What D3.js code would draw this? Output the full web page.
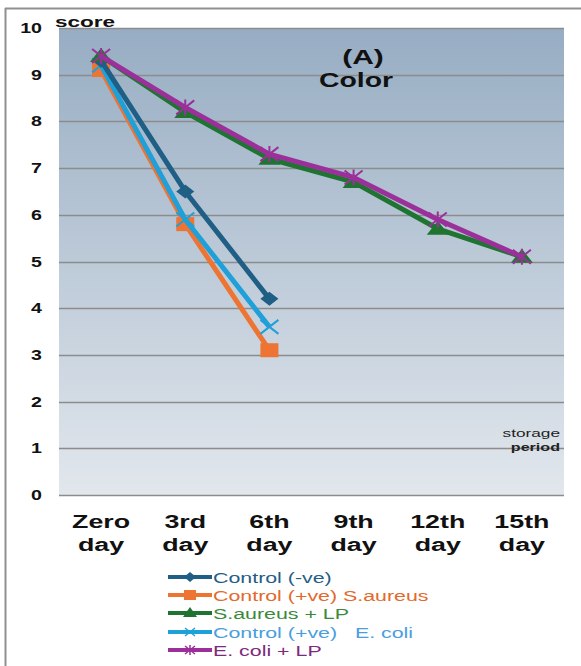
<!DOCTYPE html>
<html>
<head>
<meta charset="utf-8">
<script src="https://cdn.jsdelivr.net/npm/d3@7"></script>
<style>
html,body{margin:0;padding:0;background:#fff;}
svg{display:block;font-family:"Liberation Sans",Arial,sans-serif;}
</style>
</head>
<body>
<svg id="chart" width="581" height="666"></svg>
<script>
const categories = ["Zero day","3rd day","6th day","9th day","12th day","15th day"];
const yTicks = [0,1,2,3,4,5,6,7,8,9,10];
const seriesNames = ["Control (-ve)","Control (+ve) S.aureus","S.aureus + LP","Control (+ve)   E. coli","E. coli + LP"];
const controlNeg = [9.3, 6.5, 4.2];
const controlPosSA = [9.1, 5.8, 3.1];
const saLP = [9.4, 8.2, 7.2, 6.7, 5.7, 5.1];
const controlPosEC = [9.2, 5.9, 3.6];
const ecLP = [9.4, 8.3, 7.3, 6.8, 5.9, 5.1];

const lineColors = ["#1f5e85","#ee7433","#1e7430","#1fa0d8","#9c309a"];
const textColors = ["#1f5e85","#e26a2c","#3a8a3a","#4a9ee0","#7d2a7c"];
const markers = ["diamond","square","triangle","x","star"];
const seriesData = [controlNeg, controlPosSA, saLP, controlPosEC, ecLP];

const svg = d3.select("#chart");
const plot = {left:59, right:564, top:28, bottom:495};

// wide text helper (the original glyphs are horizontally stretched)
function wideText(parent, tx, ty, str, opts){
  return parent.append("text")
    .attr("transform",`translate(${tx},${ty}) scale(${opts.sx||1.5},1)`)
    .attr("x",0).attr("y",0)
    .attr("text-anchor",opts.anchor||"start")
    .attr("font-size",opts.size)
    .attr("font-weight",opts.weight||"normal")
    .attr("fill",opts.fill||"#111")
    .style("white-space","pre")
    .text(str);
}

// outer frame
svg.append("line").attr("x1",5).attr("x2",581).attr("y1",8.5).attr("y2",8.5).attr("stroke","#909090").attr("stroke-width",2);
svg.append("line").attr("x1",5.5).attr("x2",5.5).attr("y1",8).attr("y2",666).attr("stroke","#909090").attr("stroke-width",2);

const defs = svg.append("defs");
const grad = defs.append("linearGradient").attr("id","bg").attr("x1",0).attr("x2",0).attr("y1",0).attr("y2",1);
grad.append("stop").attr("offset","0%").attr("stop-color","#97adc3");
grad.append("stop").attr("offset","100%").attr("stop-color","#e2e7ed");

const x = d3.scaleBand().domain(categories).range([plot.left, plot.right]);
const y = d3.scaleLinear().domain([0,10]).range([plot.bottom, plot.top]);

svg.append("rect").attr("x",plot.left).attr("y",plot.top).attr("width",plot.right-plot.left).attr("height",plot.bottom-plot.top).attr("fill","url(#bg)");

// gridlines
svg.append("g").selectAll("line").data(yTicks).join("line")
  .attr("x1",plot.left).attr("x2",plot.right)
  .attr("y1",d=>Math.round(y(d))+0.5).attr("y2",d=>Math.round(y(d))+0.5)
  .attr("stroke","#8c8c8c").attr("stroke-width",1.5);

// y tick labels
const yl = svg.append("g");
yTicks.forEach(d=>wideText(yl, 42, y(d)+5, String(d), {size:14, weight:"bold", anchor:"end", sx:1.4}));

wideText(svg, 55, 27, "score", {size:15, weight:"bold", sx:1.5});

// x labels
const xl = svg.append("g");
categories.forEach(d=>{
  const parts = d.split(" ");
  const cxp = x(d)+x.bandwidth()/2;
  wideText(xl, cxp, 528, parts[0], {size:18.5, weight:"bold", anchor:"middle", sx:1.45});
  wideText(xl, cxp, 551, parts[1], {size:18.5, weight:"bold", anchor:"middle", sx:1.45});
});

// title
wideText(svg, 363, 64, "(A)", {size:20, weight:"bold", anchor:"middle", sx:1.5});
wideText(svg, 356, 87, "Color", {size:20, weight:"bold", anchor:"middle", sx:1.42});

// storage period
wideText(svg, 560, 437, "storage", {size:11.5, anchor:"end", sx:1.5, fill:"#222"});
wideText(svg, 560, 451, "period", {size:11.5, weight:"bold", anchor:"end", sx:1.4, fill:"#222"});

const cx = i => x(categories[i]) + x.bandwidth()/2;
const line = d3.line().x((d,i)=>cx(i)).y(d=>y(d));

function drawMarker(g, type, px, py, color){
  if(type==="diamond"){
    g.append("path").attr("d",`M${px},${py-7}L${px+9},${py}L${px},${py+7}L${px-9},${py}Z`).attr("fill",color);
  } else if(type==="square"){
    g.append("rect").attr("x",px-9).attr("y",py-7).attr("width",18).attr("height",14).attr("fill",color);
  } else if(type==="triangle"){
    g.append("path").attr("d",`M${px},${py-8}L${px+11},${py+6}L${px-11},${py+6}Z`).attr("fill",color);
  } else if(type==="x"){
    g.append("path").attr("d",`M${px-9},${py-7}L${px+9},${py+7}M${px-9},${py+7}L${px+9},${py-7}`).attr("stroke",color).attr("stroke-width",2).attr("fill","none");
  } else if(type==="star"){
    g.append("path").attr("d",`M${px-9},${py-7}L${px+9},${py+7}M${px-9},${py+7}L${px+9},${py-7}M${px},${py-8}L${px},${py+8}`).attr("stroke",color).attr("stroke-width",2).attr("fill","none");
  }
}

const order = [1,3,0,2,4];
order.forEach(si=>{
  const g = svg.append("g");
  g.append("path").datum(seriesData[si]).attr("d",line).attr("fill","none")
    .attr("stroke",lineColors[si]).attr("stroke-width",5).attr("stroke-linejoin","round");
  seriesData[si].forEach((v,i)=>drawMarker(g, markers[si], cx(i), y(v), lineColors[si]));
});

// legend
const legY = [577,595,613,632,650];
seriesNames.forEach((n,i)=>{
  const g = svg.append("g");
  g.append("line").attr("x1",168).attr("x2",212).attr("y1",legY[i]).attr("y2",legY[i]).attr("stroke",lineColors[i]).attr("stroke-width",4);
  const m = markers[i];
  const px = 190, py = legY[i];
  if(m==="diamond") g.append("path").attr("d",`M${px},${py-5}L${px+6},${py}L${px},${py+5}L${px-6},${py}Z`).attr("fill",lineColors[i]);
  else if(m==="square") g.append("rect").attr("x",px-6).attr("y",py-5).attr("width",12).attr("height",10).attr("fill",lineColors[i]);
  else if(m==="triangle") g.append("path").attr("d",`M${px},${py-6}L${px+7},${py+4}L${px-7},${py+4}Z`).attr("fill",lineColors[i]);
  else if(m==="x") g.append("path").attr("d",`M${px-5},${py-4}L${px+5},${py+4}M${px-5},${py+4}L${px+5},${py-4}`).attr("stroke",lineColors[i]).attr("stroke-width",1.5);
  else g.append("path").attr("d",`M${px-5},${py-4}L${px+5},${py+4}M${px-5},${py+4}L${px+5},${py-4}M${px},${py-5}L${px},${py+5}`).attr("stroke",lineColors[i]).attr("stroke-width",1.5);
  wideText(g, 213, legY[i]+5.5, n, {size:15.5, fill:textColors[i], sx:1.38});
});
</script>
</body>
</html>
